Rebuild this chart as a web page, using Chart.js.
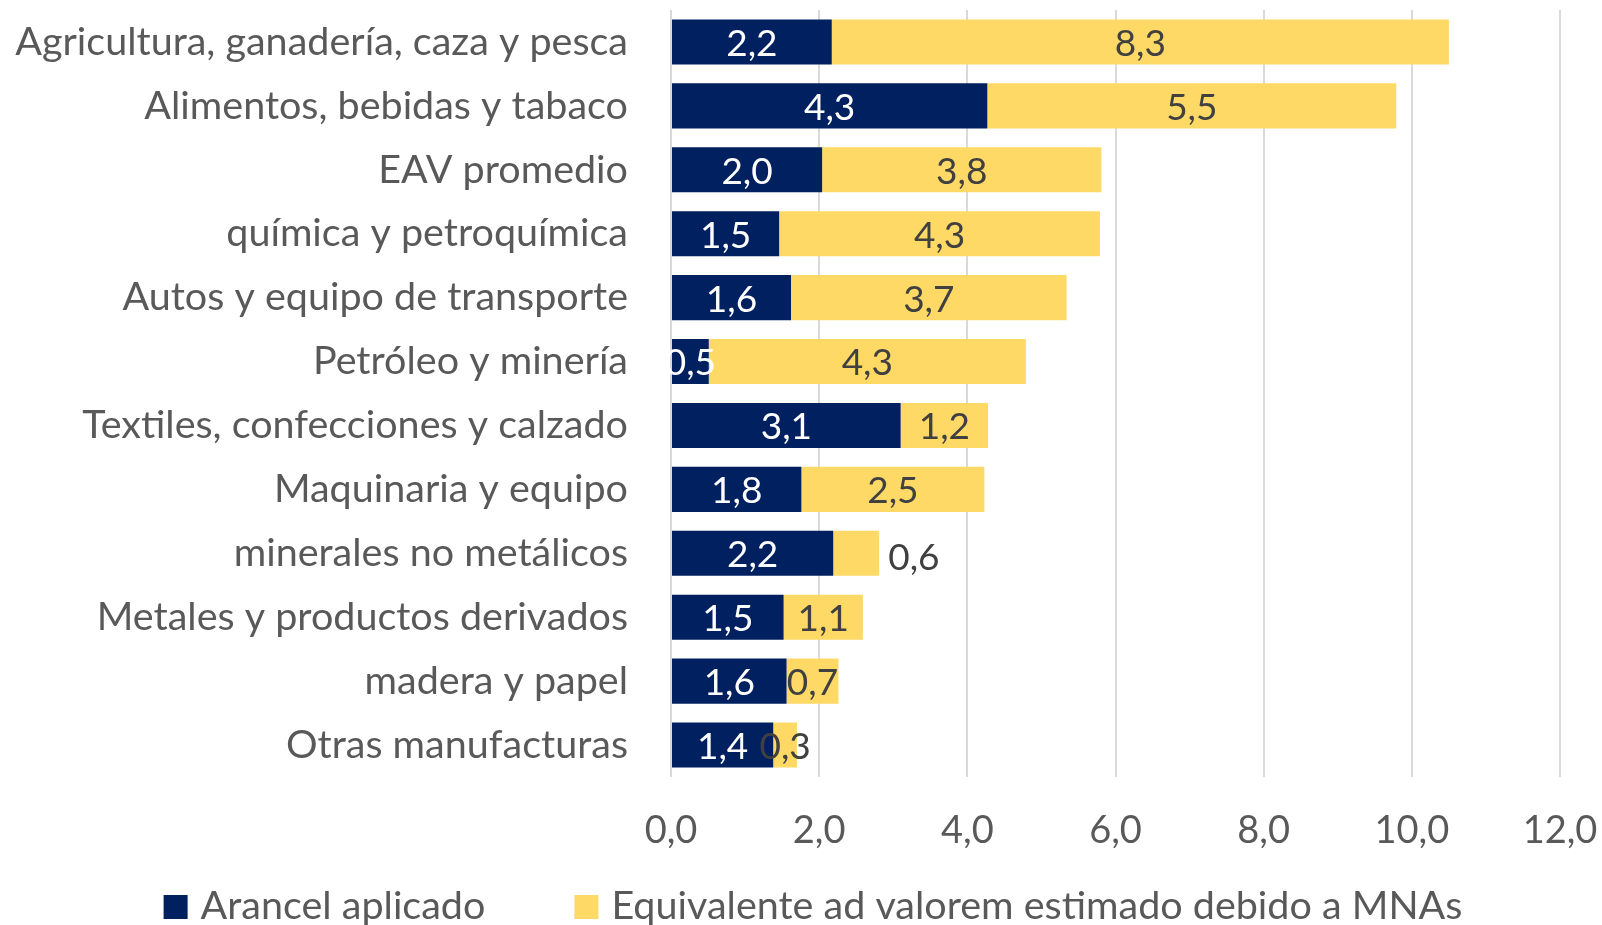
<!DOCTYPE html>
<html lang="es">
<head>
<meta charset="utf-8">
<title>Arancel aplicado y EAV por sector</title>
<script src="https://cdn.jsdelivr.net/npm/chart.js@4.4.1/dist/chart.umd.min.js"></script>
<style>
    html, body { margin: 0; padding: 0; background: #fff; }
    #contenedor { width: 1602px; height: 925px; }
</style>
</head>
<body>
<div id="contenedor"><canvas id="grafico" width="1602" height="925"></canvas></div>
<script>
const sectores = [
    'Agricultura, ganadería, caza y pesca',
    'Alimentos, bebidas y tabaco',
    'EAV promedio',
    'química y petroquímica',
    'Autos y equipo de transporte',
    'Petróleo y minería',
    'Textiles, confecciones y calzado',
    'Maquinaria y equipo',
    'minerales no metálicos',
    'Metales y productos derivados',
    'madera y papel',
    'Otras manufacturas'
];
const arancelAplicado = [2.17, 4.27, 2.04, 1.46, 1.62, 0.51, 3.10, 1.76, 2.19, 1.52, 1.56, 1.38];
const eavMNA = [8.33, 5.52, 3.77, 4.33, 3.72, 4.28, 1.18, 2.47, 0.62, 1.07, 0.70, 0.32];
const ticksX = [0, 2, 4, 6, 8, 10, 12];

const nombresSeries = ['Arancel aplicado', 'Equivalente ad valorem estimado debido a MNAs'];

const AZUL = '#002060';
const AMARILLO = '#FFD966';
const GRIS_TEXTO = '#595959';
const FUENTE = 'Lato, "Open Sans", sans-serif';

// etiqueta que en el original va fuera de la barra
const etiquetaFuera = ['minerales no metálicos'];

function formatoComa(v) {
    return v.toFixed(1).replace('.', ',');
}

const etiquetasDatos = {
    id: 'etiquetasDatos',
    afterDatasetsDraw(chart) {
        const ctx = chart.ctx;
        ctx.save();
        ctx.font = '37px ' + FUENTE;
        ctx.textBaseline = 'middle';
        chart.data.datasets.forEach((ds, i) => {
            const meta = chart.getDatasetMeta(i);
            meta.data.forEach((barra, j) => {
                const texto = formatoComa(ds.data[j]);
                ctx.fillStyle = i === 0 ? '#ffffff' : '#404040';
                if (i === 1 && etiquetaFuera.includes(chart.data.labels[j])) {
                    ctx.textAlign = 'left';
                    ctx.fillText(texto, barra.x + 9, barra.y + 5);
                } else {
                    ctx.textAlign = 'center';
                    ctx.fillText(texto, (barra.x + barra.base) / 2, barra.y + 2);
                }
            });
        });
        ctx.restore();
    }
};

// leyenda dibujada a mano para poder fijar la separación entre elementos
const leyendaAbajo = {
    id: 'leyendaAbajo',
    afterDraw(chart) {
        const ctx = chart.ctx;
        const lado = 24, huecoTexto = 13, entreItems = 89;
        const yCentro = 907;
        ctx.save();
        ctx.font = '39.5px ' + FUENTE;
        ctx.textBaseline = 'middle';
        ctx.textAlign = 'left';
        const anchos = chart.data.datasets.map(ds => lado + huecoTexto + ctx.measureText(ds.label).width);
        const total = anchos.reduce((a, b) => a + b, 0) + entreItems * (anchos.length - 1);
        let x = chart.width / 2 + 12 - total / 2;
        chart.data.datasets.forEach((ds, i) => {
            ctx.fillStyle = ds.backgroundColor;
            ctx.fillRect(x, yCentro - lado / 2, lado, lado);
            ctx.fillStyle = GRIS_TEXTO;
            ctx.fillText(ds.label, x + lado + huecoTexto, yCentro - 1);
            x += anchos[i] + entreItems;
        });
        ctx.restore();
    }
};

const ctx = document.getElementById('grafico').getContext('2d');
new Chart(ctx, {
    type: 'bar',
    data: {
        labels: sectores,
        datasets: [{
            label: nombresSeries[0],
            data: arancelAplicado,
            backgroundColor: AZUL,
            categoryPercentage: 1,
            barPercentage: 0.705
        }, {
            label: nombresSeries[1],
            data: eavMNA,
            backgroundColor: AMARILLO,
            categoryPercentage: 1,
            barPercentage: 0.705
        }]
    },
    options: {
        indexAxis: 'y',
        responsive: false,
        animation: false,
        layout: { padding: { top: 10, right: 0, left: 0, bottom: 68 } },
        plugins: {
            tooltip: { enabled: false },
            legend: { display: false }
        },
        scales: {
            x: {
                stacked: true,
                min: 0,
                max: 12,
                afterBuildTicks: (eje) => { eje.ticks = ticksX.map(v => ({ value: v })); },
                afterFit: (eje) => {
                    eje.height = 80;
                    eje.paddingRight = 42;
                    eje.paddingLeft = 0;
                },
                ticks: {
                    color: GRIS_TEXTO,
                    font: { family: FUENTE, size: 38 },
                    padding: 31,
                    maxRotation: 0,
                    callback: (v) => formatoComa(v)
                },
                grid: { color: '#D9D9D9', lineWidth: 2, drawTicks: false },
                border: { display: false }
            },
            y: {
                stacked: true,
                afterFit: (eje) => {
                    eje.width = 671;
                    eje.paddingTop = 0;
                    eje.paddingBottom = 0;
                },
                ticks: {
                    color: GRIS_TEXTO,
                    font: { family: FUENTE, size: 39.5 },
                    padding: 43
                },
                grid: { display: false, drawTicks: false },
                border: { display: false }
            }
        }
    },
    plugins: [etiquetasDatos, leyendaAbajo]
});
</script>
</body>
</html>
